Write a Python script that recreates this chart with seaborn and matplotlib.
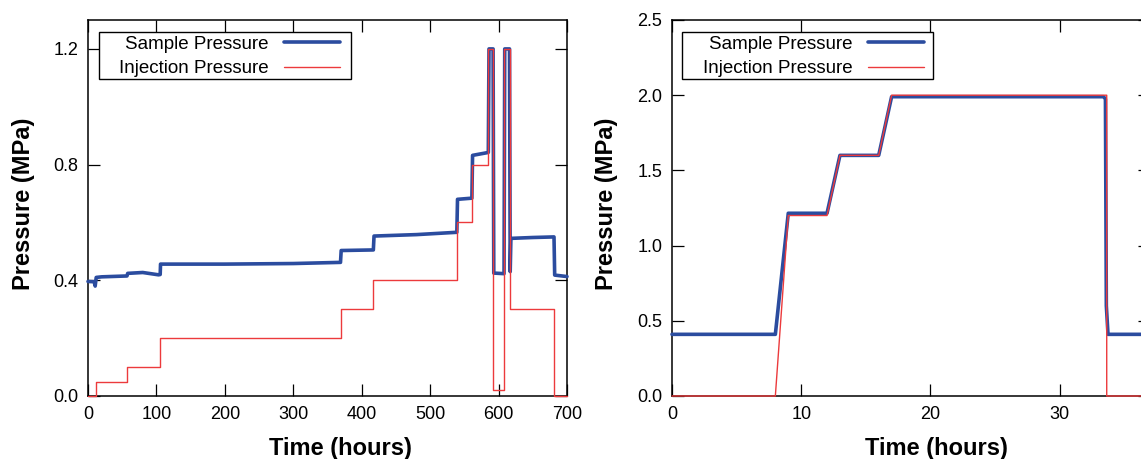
import matplotlib
matplotlib.use("Agg")
import matplotlib.pyplot as plt
import matplotlib.patches as mpatches
import seaborn as sns
import numpy as np
import pandas as pd
from matplotlib.ticker import FormatStrFormatter

# ---------------- data ----------------
# Left panel (long test, hours 0-700)
left_sample_t = [0, 9, 10.5, 12, 20, 57, 58, 80, 103, 105.5, 106, 200, 300, 369, 370, 417, 418, 480, 539,
                 540, 561, 562, 585, 586, 592, 593, 608, 609, 616, 617, 618, 650, 681, 682, 700]
left_sample_p = [0.396, 0.395, 0.380, 0.410, 0.412, 0.415, 0.424, 0.427, 0.419, 0.420, 0.456, 0.456, 0.458, 0.462, 0.503,
                 0.505, 0.553, 0.558, 0.566, 0.680, 0.684, 0.832, 0.842, 1.200, 1.200, 0.425, 0.423, 1.200,
                 1.200, 0.430, 0.545, 0.548, 0.550, 0.418, 0.413]
left_inj_t = [0, 11, 11, 57, 57, 105.5, 105.5, 369, 369, 417, 417, 539, 539, 561, 561, 585, 585, 592, 592,
              608, 608, 617, 617, 681, 681, 700]
left_inj_p = [0.0, 0.0, 0.05, 0.05, 0.10, 0.10, 0.20, 0.20, 0.30, 0.30, 0.40, 0.40, 0.60, 0.60, 0.80, 0.80,
              1.20, 1.20, 0.02, 0.02, 1.20, 1.20, 0.30, 0.30, 0.0, 0.0]

# Right panel (short test, hours 0-37)
right_sample_t = [0, 8.0, 9.0, 12.0, 13.0, 16.0, 17.0, 25.0, 33.4, 33.55, 33.62, 33.75, 37]
right_sample_p = [0.41, 0.41, 1.215, 1.215, 1.60, 1.60, 1.99, 1.99, 1.99, 1.975, 0.60, 0.41, 0.41]
right_inj_t = [0, 8.0, 9.0, 12.0, 13.0, 16.0, 17.0, 33.65, 33.65, 37]
right_inj_p = [0.0, 0.0, 1.20, 1.20, 1.60, 1.60, 2.00, 2.00, 0.0, 0.0]

left_xticks = [0, 100, 200, 300, 400, 500, 600, 700]
left_yticks = [0.0, 0.4, 0.8, 1.2]
right_xticks = [0, 10, 20, 30]
right_yticks = [0.0, 0.5, 1.0, 1.5, 2.0, 2.5]

labels = ["Sample Pressure", "Injection Pressure"]
xlabel = "Time (hours)"
ylabel = "Pressure (MPa)"

# ---------------- style ----------------
sns.set_theme(style="ticks")
plt.rcParams['font.family'] = ['Liberation Sans', 'DejaVu Sans']

BLUE = "#2b4c9f"
RED = "#ec3a3c"

W, H = 1141, 459
fig = plt.figure(figsize=(W / 100, H / 100), dpi=100)

ax1 = fig.add_axes([88 / W, (H - 396) / H, 479 / W, 376 / H])
ax2 = fig.add_axes([672 / W, (H - 396) / H, 478 / W, 376 / H])


def draw(ax, st, sp, it, ip):
    sns.lineplot(x=st, y=sp, ax=ax, sort=False, estimator=None, color=BLUE,
                 linewidth=2.6, label=labels[0], clip_on=False, zorder=3)
    sns.lineplot(x=it, y=ip, ax=ax, sort=False, estimator=None, color=RED,
                 linewidth=1.0, label=labels[1], clip_on=False, zorder=4)


draw(ax1, left_sample_t, left_sample_p, left_inj_t, left_inj_p)
draw(ax2, right_sample_t, right_sample_p, right_inj_t, right_inj_p)

ax1.set_xlim(0, 700)
ax1.set_ylim(0, 1.3)
ax1.set_xticks(left_xticks)
ax1.set_yticks(left_yticks)
ax2.set_xlim(0, 37)
ax2.set_ylim(0, 2.5)
ax2.set_xticks(right_xticks)
ax2.set_yticks(right_yticks)

# legend box geometry (pixels): frame left/right, text left
legend_geo = {ax1: (99, 351, 119), ax2: (682, 933, 703)}
label_x = {ax1: 0.526, ax2: 0.554}

for ax in (ax1, ax2):
    ax.yaxis.set_major_formatter(FormatStrFormatter('%.1f'))
    ax.tick_params(direction='in', length=8.5, width=0.9, top=True, right=True,
                   labelsize=13, pad=7, colors='black')
    for s in ax.spines.values():
        s.set_visible(True)
        s.set_linewidth(1.1)
        s.set_color('black')
    ax.set_xlabel(xlabel, fontsize=17, fontweight='bold', color='black')
    ax.set_ylabel(ylabel, fontsize=17, fontweight='bold', color='black')
    ax.xaxis.set_label_coords(label_x[ax], -0.11)
    ax.yaxis.set_label_coords(-0.111 if ax is ax1 else -0.112, 0.51)
    fl, fr, tl = legend_geo[ax]
    handles, labs = ax.get_legend_handles_labels()
    leg = ax.legend(handles, labs, loc='upper left',
                    bbox_to_anchor=(tl / W, 1 - 35.5 / H), bbox_transform=fig.transFigure,
                    borderaxespad=0, markerfirst=False, fontsize=13.5,
                    handlelength=3.0, handletextpad=0.8, borderpad=0.0,
                    labelspacing=0.4, frameon=False)
    for t in leg.get_texts():
        t.set_color('black')
    frame = mpatches.Rectangle((fl / W, 1 - 79.3 / H), (fr - fl) / W, 47 / H,
                               transform=fig.transFigure, fill=True, facecolor='white',
                               edgecolor='black', linewidth=1.0, zorder=4.5)
    ax.add_artist(frame)
    leg.set_zorder(6)

fig.savefig("out.png", dpi=100)
